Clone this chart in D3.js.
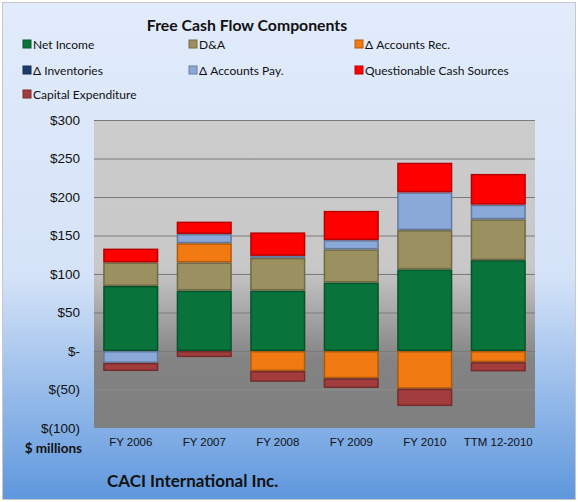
<!DOCTYPE html>
<html>
<head>
<meta charset="utf-8">
<script src="https://cdn.jsdelivr.net/npm/d3@7"></script>
<style>
  body { margin: 0; background: #fff; }
  svg { display: block; font-family: Lato, "Open Sans", sans-serif; }
</style>
</head>
<body>
<svg id="chart" width="578" height="502"></svg>
<script>
// categories and series (values in $ millions)
const categories = ["FY 2006", "FY 2007", "FY 2008", "FY 2009", "FY 2010", "TTM 12-2010"];
const seriesNames = ["Net Income", "D&A", "\u0394 Accounts Rec.", "\u0394 Inventories", "\u0394 Accounts Pay.", "Questionable Cash Sources", "Capital Expenditure"];
const netIncome   = [84.5, 78.5, 78.5, 89, 106, 118];
const dna         = [30.5, 36.5, 42.5, 43, 51, 53];
const accountsRec = [0, 25, -26, -35.5, -49, -14.5];
const inventories = [0, 0, 0, 0, 0, 0];
const accountsPay = [-15.5, 12, 2.5, 12, 49, 19];
const questionable = [18, 16, 30.5, 38, 38.5, 40];
const capex       = [-10.5, -8, -14, -12.5, -22.5, -12];
const seriesColors = ["#08733a", "#9b9160", "#f27a12", "#1f3b6e", "#8aa8d8", "#ff0000", "#a33c3c"];
const yTicks = [-100, -50, 0, 50, 100, 150, 200, 250, 300];

const W = 578, H = 502;
const margin = { top: 120, left: 94, right: 43, bottom: 74 };
const svg = d3.select("#chart");
const defs = svg.append("defs");

// chart background: pale blue fading to stronger blue at the bottom
const bgGrad = defs.append("linearGradient").attr("id", "bg").attr("x1", 0).attr("y1", 0).attr("x2", 0).attr("y2", 1);
bgGrad.append("stop").attr("offset", "0%").attr("stop-color", "#e1ebfb");
bgGrad.append("stop").attr("offset", "55%").attr("stop-color", "#d5e3f8");
bgGrad.append("stop").attr("offset", "100%").attr("stop-color", "#5e97dd");

// plot background: light gray on top, darker gray below zero
const plotGrad = defs.append("linearGradient").attr("id", "plotbg").attr("x1", 0).attr("y1", 0).attr("x2", 0).attr("y2", 1);
plotGrad.append("stop").attr("offset", "0%").attr("stop-color", "#cccccc");
plotGrad.append("stop").attr("offset", "48%").attr("stop-color", "#c8c8c8");
plotGrad.append("stop").attr("offset", "78%").attr("stop-color", "#838383");
plotGrad.append("stop").attr("offset", "100%").attr("stop-color", "#7f7f7f");

svg.append("rect").attr("x", 2.5).attr("y", 2.5).attr("width", W - 5).attr("height", H - 5)
  .attr("fill", "url(#bg)").attr("stroke", "#c8c8c8").attr("stroke-width", 1);

const x = d3.scaleBand().domain(categories).range([margin.left, W - margin.right]).paddingInner(0.25).paddingOuter(0.125);
const y = d3.scaleLinear().domain([-100, 300]).range([H - margin.bottom, margin.top]);

svg.append("rect")
  .attr("x", margin.left).attr("y", margin.top)
  .attr("width", W - margin.left - margin.right).attr("height", H - margin.top - margin.bottom)
  .attr("fill", "url(#plotbg)");

// gridlines
const grid = svg.append("g");
grid.selectAll("line").data(yTicks.filter(t => t !== -100)).join("line")
  .attr("x1", margin.left).attr("x2", W - margin.right)
  .attr("y1", d => y(d) + 0.5).attr("y2", d => y(d) + 0.5)
  .attr("stroke", d => d < 0 ? "#8c8c8c" : "#7a7a7a").attr("stroke-width", 1);

// y axis labels
const fmt = v => v === 0 ? "$-" : v < 0 ? `$(${-v})` : `$${v}`;
const yAxis = svg.append("g").attr("transform", `translate(${margin.left},0)`)
  .call(d3.axisLeft(y).tickValues(yTicks).tickFormat(fmt).tickSize(0).tickPadding(14));
yAxis.select(".domain").remove();
yAxis.selectAll("text").attr("font-size", 13.5).attr("fill", "#111");

// x axis labels
const xAxis = svg.append("g").attr("transform", `translate(0,${H - margin.bottom})`)
  .call(d3.axisBottom(x).tickSize(0).tickPadding(10));
xAxis.select(".domain").remove();
xAxis.selectAll("text").attr("font-size", 11.5).attr("fill", "#111");

// stacked bars
const valueArrays = [netIncome, dna, accountsRec, inventories, accountsPay, questionable, capex];
const rows = categories.map((c, i) => {
  const r = { cat: c };
  seriesNames.forEach((s, k) => { r[s] = valueArrays[k][i]; });
  return r;
});
const stacked = d3.stack().keys(seriesNames).offset(d3.stackOffsetDiverging)(rows);

const bars = svg.append("g");
stacked.forEach((layer, k) => {
  const col = d3.color(seriesColors[k]);
  bars.append("g").selectAll("rect")
    .data(layer.filter(d => Math.abs(d[1] - d[0]) > 0.01))
    .join("rect")
    .attr("x", d => x(d.data.cat) + 0.75)
    .attr("y", d => y(Math.max(d[0], d[1])) + 0.75)
    .attr("width", x.bandwidth() - 1.5)
    .attr("height", d => Math.max(0.5, Math.abs(y(d[0]) - y(d[1])) - 1.5))
    .attr("fill", col.formatHex())
    .attr("stroke", col.darker(0.9).formatHex())
    .attr("stroke-width", 1.5);
});

// title
svg.append("text").attr("x", 247).attr("y", 31).attr("text-anchor", "middle")
  .attr("font-size", 15.8).attr("font-weight", "bold").attr("fill", "#111")
  .text("Free Cash Flow Components");

// legend: three columns
const legendCols = [23, 189, 355];
const legendRows = [44, 70, 94];
const legend = svg.append("g");
seriesNames.forEach((s, k) => {
  const lx = legendCols[k % 3], ly = legendRows[Math.floor(k / 3)];
  const col = d3.color(seriesColors[k]);
  legend.append("rect").attr("x", lx).attr("y", ly - 4).attr("width", 8).attr("height", 8)
    .attr("fill", col.formatHex()).attr("stroke", col.darker(0.8).formatHex()).attr("stroke-width", 1);
  legend.append("text").attr("x", lx + 10).attr("y", ly + 4.5)
    .attr("font-size", 12).attr("fill", "#111").text(s);
});

svg.append("text").attr("x", 82).attr("y", 453).attr("text-anchor", "end")
  .attr("font-size", 13.5).attr("font-weight", "bold").attr("fill", "#111").text("$ millions");

svg.append("text").attr("x", 107).attr("y", 487)
  .attr("font-size", 17).attr("font-weight", "bold").attr("fill", "#111").text("CACI International Inc.");
</script>
</body>
</html>
